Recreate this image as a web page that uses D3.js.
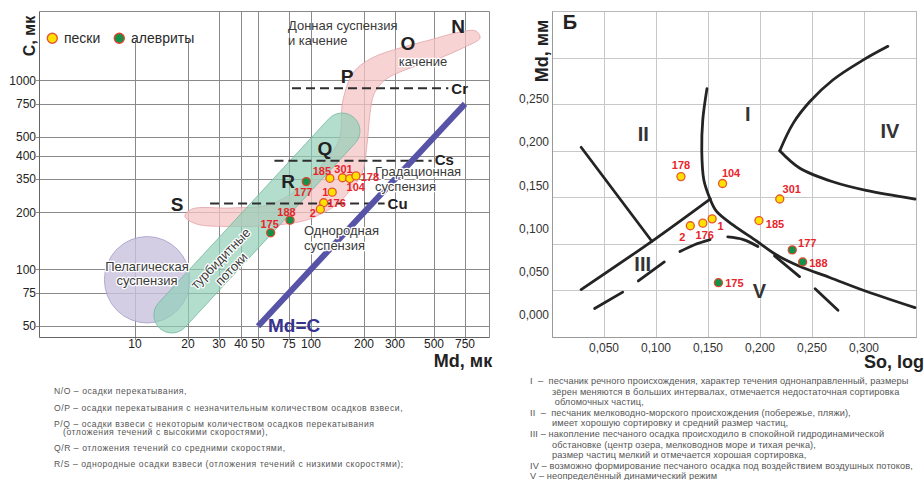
<!DOCTYPE html>
<html><head><meta charset="utf-8">
<script src="https://cdn.jsdelivr.net/npm/d3@7"></script>
<style>
body{margin:0;background:#fff;}
svg{display:block;font-family:"Liberation Sans",Arial,sans-serif;}
.pre{white-space:pre;}
</style></head><body>
<svg id="chart" width="924" height="480"></svg>
<script>
// ================= DATA =================
// Panel A (CM diagram, log axes)
const aXTicks = [10,20,30,40,50,75,100,200,300,500,750];
const aYTicks = [50,75,100,200,300,400,500,750,1000];
const aYTickLabels = ["50","75","100","200","350","400","500","750","1000"];

const sampleIds  = ["185","301","104","178","177","1","176","2","188","175"];
const sampleType = ["sand","sand","sand","sand","silt","sand","sand","sand","silt","silt"];
const aMd = [128,151,166,180,94,132,118,113,76,59];
const aC  = [303,305,302,312,291,256,225,208,182,156];

// region outlines in (Md, C)
const pinkBand = [[152,787],[144,483],[115,356],[83,263],[57,219],[35,211],[21.1,208.5],[19.2,191],
  [22.2,174],[39.5,168.5],[65,171.5],[92,181],[110,193],[139,219],[166,260],[195,323],[208,455],
  [216,655],[228,846],[263,1004],[342,1134],[506,1281],[750,1501],[913,1674],[866,1823],[702,1801],
  [474,1634],[320,1482],[222,1312],[175,1106]];
const turbiditeAxis = [[16.2,57.3],[150,539]];
const pelagic = {mdMin:6.7, mdMax:20.5, cMin:52, cMax:149};
const critLines = [ {name:"Cr", md:[78,603], c:907}, {name:"Cs", md:[62,485], c:375}, {name:"Cu", md:[26.7,262], c:223} ];
const mdEqC = [50,750];

// Panel B (So, Md)
const bXTicks = [0.05,0.10,0.15,0.20,0.25,0.30];
const bYTicks = [0,0.05,0.10,0.15,0.20,0.25];
const bSo = [0.199,0.219,0.164,0.124,0.231,0.154,0.145,0.133,0.241,0.160];
const bMd = [0.109,0.134,0.152,0.160,0.075,0.111,0.106,0.103,0.061,0.037];

const bSolid = [
  [[0.149,0.262],[0.145,0.226],[0.144,0.190],[0.146,0.156],[0.152,0.134]],
  [[0.152,0.134],[0.158,0.120],[0.174,0.104],[0.197,0.085],[0.216,0.069],[0.238,0.056],[0.267,0.043],[0.302,0.027],[0.349,0.008]],
  [[0.152,0.134],[0.096,0.085],[0.028,0.029]],
  [[0.028,0.194],[0.096,0.085]],
  [[0.323,0.311],[0.299,0.295],[0.270,0.272],[0.248,0.247],[0.232,0.222],[0.219,0.190]],
  [[0.219,0.190],[0.238,0.170],[0.270,0.154],[0.302,0.144],[0.349,0.134]]
];
const bDashes = [
  [[0.041,0.007],[0.068,0.026]],
  [[0.083,0.039],[0.108,0.061]],
  [[0.123,0.073],[0.137,0.081],[0.152,0.087]],
  [[0.169,0.090],[0.184,0.087],[0.198,0.079]],
  [[0.214,0.068],[0.238,0.044]],
  [[0.253,0.030],[0.275,0.005]]
];

const notesA = [
  ["N/O – осадки перекатывания,"],
  ["O/P – осадки перекатывания с незначительным количеством осадков взвеси,"],
  ["P/Q – осадки взвеси с некоторым количеством осадков перекатывания","(отложения течений с высокими скоростями),"],
  ["Q/R – отложения течений со средними скоростями,"],
  ["R/S – однородные осадки взвеси (отложения течений с низкими скоростями);"]
];
const notesB = [
  ["I  –  песчаник речного происхождения, характер течения однонаправленный, размеры",
   "зёрен меняются в больших интервалах, отмечается недостаточная сортировка",
   " обломочных частиц,"],
  ["II  –  песчаник мелководно-морского происхождения (побережье, пляжи),",
   "имеет хорошую сортировку и средний размер частиц,"],
  ["III – накопление песчаного осадка происходило в спокойной гидродинамической",
   "обстановке (центр озера, мелководнов море и тихая речка),",
   "размер частиц мелкий и отмечается хорошая сортировка,"],
  ["IV – возможно формирование песчаного осадка под воздействием воздушных потоков,"],
  ["V – неопределённый динамический режим"]
];

// ================= LAYOUT / STYLE =================
const svg = d3.select("#chart");
const A = {left:39, right:489, top:11, bottom:337};
const B = {left:552, right:916, top:11, bottom:337};
const xA = d3.scaleLog().domain([10,750]).range([135,465]);
const yA = d3.scaleLog().domain([100,1000]).range([269.3,80.3]);
const xB = d3.scaleLinear().domain([0,0.35]).range([B.left,B.right]);
const yB = d3.scaleLinear().domain([-0.026,0.352]).range([B.bottom,B.top]);
const px = v => Math.round(v)+0.5;
const comma = d => d3.format(".3f")(d).replace(".",",");

function ann(sel, x, y, lines, o={}) {
  const t = sel.append("text")
    .attr("font-size",o.size||13).attr("font-weight",o.weight||"normal")
    .attr("fill",o.fill||"#3a3a3a").attr("text-anchor",o.anchor||"start");
  let tx=x, ty=y;
  if(o.rotate!=null){ t.attr("transform",`translate(${x},${y}) rotate(${o.rotate})`); tx=0; ty=0; }
  t.attr("x",tx).attr("y",ty);
  if(o.halo) t.attr("stroke","#fff").attr("stroke-width",o.halo).attr("stroke-linejoin","round").attr("paint-order","stroke");
  lines.forEach((s,i)=>t.append("tspan").attr("x",tx).attr("dy",i?(o.lh||14.5):(o.dy0||0)).text(s));
  return t;
}

// ---------- Panel A grid ----------
const gA = svg.append("g");
gA.selectAll("line.h").data(aYTicks).join("line").attr("class","h")
  .attr("x1",A.left-3).attr("x2",A.right).attr("y1",d=>px(yA(d))).attr("y2",d=>px(yA(d)))
  .attr("stroke","#8a8a8a");
gA.selectAll("line.v").data(aXTicks).join("line").attr("class","v")
  .attr("x1",d=>px(xA(d))).attr("x2",d=>px(xA(d)))
  .attr("y1",d=>xA(d)<205?40:A.top).attr("y2",A.bottom+3)
  .attr("stroke","#8a8a8a");
gA.append("path").attr("d",`M${px(A.left)},${px(A.top)}H${px(A.right)}V${px(A.bottom)}`).attr("fill","none").attr("stroke","#8a8a8a");
gA.append("path").attr("d",`M${px(A.left)},${px(A.top)}V${px(A.bottom)}H${px(A.right)}`).attr("fill","none").attr("stroke","#666");

gA.selectAll("text.yt").data(aYTicks).join("text").attr("class","yt")
  .attr("x",36).attr("y",d=>yA(d)+4.3).attr("text-anchor","end").attr("font-size",12).attr("fill","#222")
  .text((d,i)=>aYTickLabels[i]);
gA.selectAll("text.xt").data(aXTicks).join("text").attr("class","xt")
  .attr("x",d=>xA(d)).attr("y",348).attr("text-anchor","middle").attr("font-size",12).attr("fill","#222")
  .text(d=>d);

// ---------- Panel A regions ----------
const lineA = d3.line().x(d=>xA(d[0])).y(d=>yA(d[1]));
const pcx = (xA(pelagic.mdMin)+xA(pelagic.mdMax))/2, pcy=(yA(pelagic.cMin)+yA(pelagic.cMax))/2;
gA.append("ellipse").attr("cx",pcx).attr("cy",pcy)
  .attr("rx",(xA(pelagic.mdMax)-xA(pelagic.mdMin))/2).attr("ry",(yA(pelagic.cMin)-yA(pelagic.cMax))/2)
  .attr("fill","#c9c2df").attr("fill-opacity",0.8).attr("stroke","#a49cc8").attr("stroke-width",0.8);

gA.append("path").attr("d",lineA.curve(d3.curveCatmullRomClosed.alpha(0.5))(pinkBand))
  .attr("fill","#f4c4c6").attr("fill-opacity",0.75).attr("stroke","#e2a3a7").attr("stroke-width",0.8);

{ // turbidite capsule
  const [a,b] = turbiditeAxis.map(d=>[xA(d[0]),yA(d[1])]);
  const L = Math.hypot(b[0]-a[0],b[1]-a[1]); const dx=(b[0]-a[0])/L, dy=(b[1]-a[1])/L;
  const r=18, nx=-dy*r, ny=dx*r;
  const p = `M${a[0]+nx},${a[1]+ny}L${b[0]+nx},${b[1]+ny}A${r},${r} 0 0 0 ${b[0]-nx},${b[1]-ny}L${a[0]-nx},${a[1]-ny}A${r},${r} 0 0 0 ${a[0]+nx},${a[1]+ny}Z`;
  gA.append("path").attr("d",p).attr("fill","#8fcfb7").attr("fill-opacity",0.68).attr("stroke","#74b79d").attr("stroke-width",0.8);
}

// critical dashed lines
critLines.forEach(l=>{
  gA.append("line").attr("x1",xA(l.md[0])).attr("x2",xA(l.md[1])).attr("y1",yA(l.c)).attr("y2",yA(l.c))
    .attr("stroke","#2e2e2e").attr("stroke-width",2).attr("stroke-dasharray","9,5");
});
// Md = C
gA.append("line").attr("x1",xA(mdEqC[0])).attr("y1",yA(mdEqC[0])).attr("x2",xA(mdEqC[1])).attr("y2",yA(mdEqC[1]))
  .attr("stroke","#5753a6").attr("stroke-width",6);

// annotations A
ann(gA,288,29.5,["Донная суспензия","и качение"],{size:13,lh:15});
ann(gA,423,66,["качение"],{size:13,anchor:"middle",halo:2.5});
ann(gA,375,176,["Градационная","суспензия"],{size:13,lh:14.5,halo:2.5});
ann(gA,304,235,["Однородная","суспензия"],{size:13,lh:14.5,halo:2.5});
ann(gA,147,270.5,["Пелагическая","суспензия"],{size:13,anchor:"middle",lh:14,halo:2.5});
ann(gA,220.5,258.5,["турбидитные","потоки"],{size:13,anchor:"middle",lh:15,halo:2.5,rotate:-46,dy0:4.5});
[["N",458,32.7],["O",408,50],["P",347,82.7],["Q",325,155],["R",288,188.3],["S",177,210.7]].forEach(([t,x,y])=>
  ann(gA,x,y,[t],{size:19,weight:"bold",anchor:"middle",fill:"#222"}));
critLines.forEach(l=>ann(gA,xA(l.md[1])+3,yA(l.c)+(l.name==="Cs"?4:5.5),[l.name],{size:15,weight:"bold",fill:"#222"}));
ann(gA,268,331.5,["Md=C"],{size:19,weight:"bold",fill:"#37338f"});

// legend
svg.append("rect").attr("x",40).attr("y",12).attr("width",165).attr("height",27).attr("fill","#fff");
ann(gA,60,28.5,["А"],{size:20,weight:"bold",anchor:"middle",fill:"#222"});
const styleFor = t => t==="sand" ? {fill:"#ffe100",stroke:"#e4572e"} : {fill:"#12914a",stroke:"#e0452d"};
[["sand",52.3,"пески",64],["silt",119.3,"алевриты",131]].forEach(([t,cx,label,tx])=>{
  svg.append("circle").attr("cx",cx).attr("cy",38.3).attr("r",5).attr("fill",styleFor(t).fill).attr("stroke",styleFor(t).stroke).attr("stroke-width",1.4);
  ann(svg,tx,43,[label],{size:14,fill:"#2a2a2a"});
});
// axis titles A
ann(svg,34.5,36,["С, мк"],{size:16,weight:"bold",anchor:"middle",rotate:-90,fill:"#222"});
ann(svg,463,366.5,["Md, мк"],{size:18,weight:"bold",anchor:"middle",fill:"#222"});

// points A
const aOff = [[-8,-7],[1,-8.5],[6,8],[14,1.5],[-3,10.5],[-7,0],[13,0.5],[-7.5,3.5],[-3.5,-8.5],[-1,-9]];
const ptsA = svg.append("g");
sampleIds.forEach((id,i)=>{
  const x=xA(aMd[i]), y=yA(aC[i]), s=styleFor(sampleType[i]);
  ptsA.append("circle").attr("cx",x).attr("cy",y).attr("r",4).attr("fill",s.fill).attr("stroke",s.stroke).attr("stroke-width",1.3);
  ptsA.append("text").attr("x",x+aOff[i][0]).attr("y",y+aOff[i][1]+4).attr("text-anchor","middle")
    .attr("font-size",11).attr("font-weight","bold").attr("fill","#e8252b").text(id);
});

// ---------- Panel B ----------
const gB = svg.append("g");
const hGrid = d3.range(1,7).map(k=>yB.domain()[0]+k*(yB.domain()[1]-yB.domain()[0])/7);
gB.selectAll("line.h").data(hGrid).join("line").attr("x1",B.left).attr("x2",B.right)
  .attr("y1",d=>px(yB(d))).attr("y2",d=>px(yB(d))).attr("stroke","#c8c8c8");
gB.selectAll("line.v").data(bXTicks).join("line").attr("y1",B.top).attr("y2",B.bottom)
  .attr("x1",d=>px(xB(d))).attr("x2",d=>px(xB(d))).attr("stroke","#c8c8c8");
gB.append("rect").attr("x",px(B.left)).attr("y",px(B.top)).attr("width",B.right-B.left).attr("height",B.bottom-B.top)
  .attr("fill","none").attr("stroke","#b8b8b8");
gB.append("path").attr("d",`M${px(B.left)},${px(B.top)}V${px(B.bottom)}H${px(B.right)}`).attr("fill","none").attr("stroke","#9a9a9a");
gB.selectAll("text.yt").data(bYTicks).join("text").attr("x",549).attr("y",d=>yB(d)+4.3)
  .attr("text-anchor","end").attr("font-size",12).attr("fill","#333").text(comma);
gB.selectAll("text.xt").data(bXTicks).join("text").attr("x",d=>xB(d)).attr("y",351.5)
  .attr("text-anchor","middle").attr("font-size",12).attr("fill","#333").text(comma);

const lineB = d3.line().x(d=>xB(d[0])).y(d=>yB(d[1])).curve(d3.curveCatmullRom.alpha(0.5));
bSolid.forEach(seg=>gB.append("path").attr("d",lineB(seg)).attr("fill","none").attr("stroke","#242424")
  .attr("stroke-width",2.8).attr("stroke-linecap","round").attr("stroke-linejoin","round"));
bDashes.forEach(seg=>gB.append("path").attr("d",lineB(seg)).attr("fill","none").attr("stroke","#242424")
  .attr("stroke-width",2.8).attr("stroke-linecap","round"));

[["I",747.7,121],["II",643.3,141],["III",642.7,270.7],["IV",890,137.7],["V",759.3,298]].forEach(([t,x,y])=>
  ann(gB,x,y,[t],{size:20,weight:"bold",anchor:"middle",fill:"#333"}));
ann(gB,570,28.5,["Б"],{size:20,weight:"bold",anchor:"middle",fill:"#222"});
ann(svg,548,51,["Md, мм"],{size:18,weight:"bold",anchor:"middle",rotate:-90,fill:"#222"});
ann(svg,894,368,["So, log"],{size:18,weight:"bold",anchor:"middle",fill:"#222"});

const bOff = [[16,3.3],[12,-10],[8.5,-10.5],[0,-11.5],[15,-7.3],[8.5,6.7],[2,11.7],[-8,11.4],[15.7,0.7],[16,0]];
sampleIds.forEach((id,i)=>{
  const x=xB(bSo[i]), y=yB(bMd[i]), s=styleFor(sampleType[i]);
  gB.append("circle").attr("cx",x).attr("cy",y).attr("r",4).attr("fill",s.fill).attr("stroke",s.stroke).attr("stroke-width",1.3);
  gB.append("text").attr("x",x+bOff[i][0]).attr("y",y+bOff[i][1]+4).attr("text-anchor","middle")
    .attr("font-size",11).attr("font-weight","bold").attr("fill","#e8252b").text(id);
});

// ---------- notes ----------
const nA = svg.append("g").attr("font-size",8.6).attr("fill","#555").attr("letter-spacing",0.55);
const nAy = [394,411,427,451,467];
notesA.forEach((ls,i)=>ls.forEach((s,j)=>nA.append("text").attr("class","pre")
  .attr("x",j?63:54).attr("y",nAy[i]+j*7.5).text(s)));
const nB = svg.append("g").attr("font-size",9.2).attr("fill","#555").attr("letter-spacing",0.12);
let row=0;
notesB.forEach(ls=>ls.forEach((s,j)=>{
  nB.append("text").attr("class","pre").attr("x",j?552:530).attr("y",384+row*10.6).text(s); row++;
}));
</script>
</body></html>
